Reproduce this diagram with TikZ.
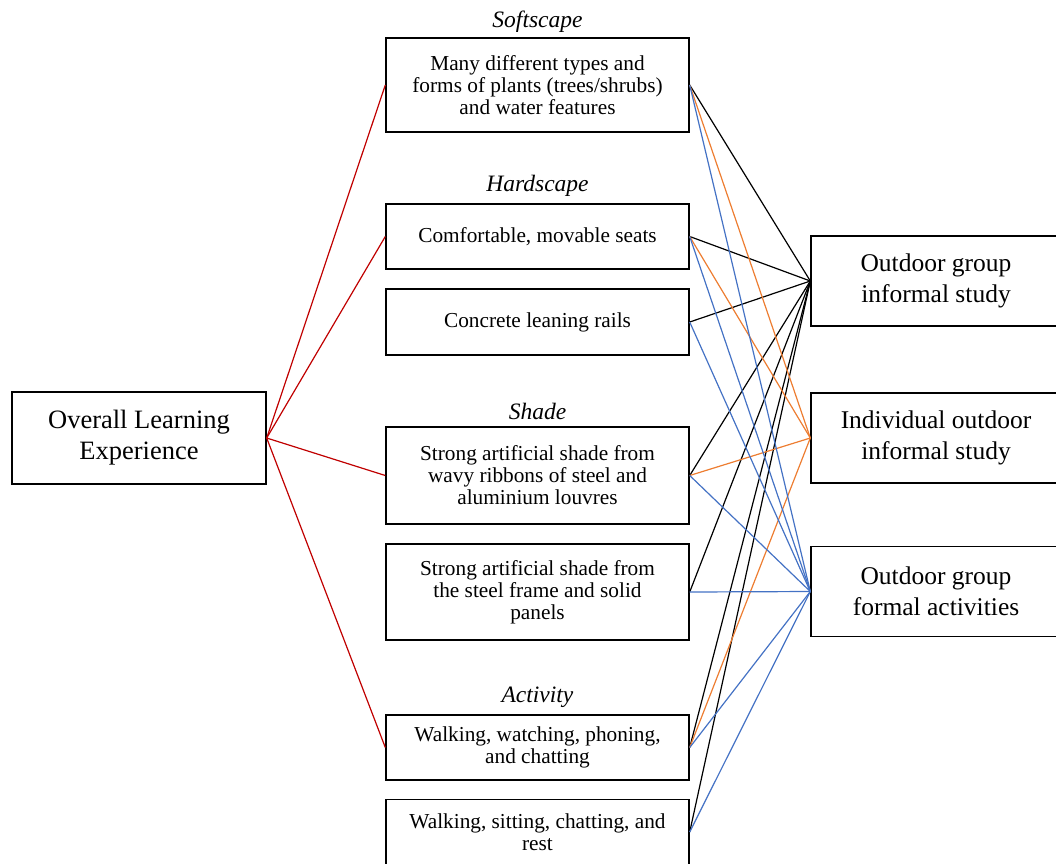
\documentclass[tikz,border=0pt]{standalone}
\usepackage{fontspec}
\setmainfont{Liberation Serif}
\definecolor{linkred}{HTML}{C00000}
\definecolor{linkorange}{HTML}{ED7D31}
\definecolor{linkblue}{HTML}{4472C4}
\tikzstyle{outcome}=[draw,line width=1.4pt,minimum width=254pt,minimum height=92pt,align=center,inner sep=0pt,font=\fontsize{26.5}{31}\selectfont]
\tikzstyle{factor}=[draw,line width=1.4pt,minimum width=303pt,align=center,inner sep=0pt,font=\fontsize{21.3}{22}\selectfont]
\tikzstyle{theme}=[font=\fontsize{23.5}{25}\selectfont\itshape]
\tikzstyle{link}=[draw,line width=1.2pt]

\begin{document}
\begin{tikzpicture}[x=1pt,y=-1pt]
                  \useasboundingbox (0,0) rectangle (1056,863);
                  % Overall experience on the left
                  \node[outcome] (overall) at (139,438) {Overall Learning\\Experience};
                  % Then the design features in the middle
                  \foreach \pos/\name/\h/\la in {{(537.5,85)/m1/94/Many different types and\\forms of plants (trees\slash shrubs)\\and water features},
                  {(537.5,236.5)/m2/65/Comfortable, movable seats},
                  {(537.5,322)/m3/66/Concrete leaning rails},
                  {(537.5,475.5)/m4/97/Strong artificial shade from\\wavy ribbons of steel and\\aluminium louvres},
                  {(537.5,592)/m5/96/Strong artificial shade from\\the steel frame and solid\\panels},
                  {(537.5,747.5)/m6/65/Walking, watching, phoning,\\and chatting},
                  {(537.5,832)/m7/65/Walking, sitting, chatting, and\\rest}}
                        \node[factor,minimum height=\h pt] (\name) at \pos {\la};
                  % Group headings above the boxes
                  \foreach \pos/\name/\la in {(537.5,22)/soft/Softscape,(537.5,186)/hard/Hardscape,
                  (537.5,411)/shade/Shade,(537.5,697)/act/Activity}
                        \node[theme] (\name) at \pos {\la};
                  % Study modes on the right
                  \foreach \pos/\name/\la in {{(936,281)/r1/Outdoor group\\informal study},
                  {(936,438)/r2/Individual outdoor\\informal study},
                  {(936,591.5)/r3/Outdoor group\\formal activities}}
                        \node[outcome,minimum width=250pt,minimum height=90pt,font=\fontsize{25.5}{30.5}\selectfont] (\name) at \pos {\la};
                  % Red links from the overall experience
                  \foreach \dest in {m1,m2,m4,m6}
                  \path[link,draw=linkred] (overall.east) -- (\dest.west);
                  % Links from features to study modes
                  \foreach \source/\dest/\col in {m1/r1/black,m2/r1/black,m3/r1/black,m4/r1/black,
                  m5/r1/black,m6/r1/black,m7/r1/black,
                  m1/r2/linkorange,m2/r2/linkorange,m4/r2/linkorange,m6/r2/linkorange,
                  m1/r3/linkblue,m2/r3/linkblue,m3/r3/linkblue,m4/r3/linkblue,
                  m5/r3/linkblue,m6/r3/linkblue,m7/r3/linkblue}
                  \path[link,draw=\col] (\source.east) -- (\dest.west);
            \end{tikzpicture}
\end{document}
